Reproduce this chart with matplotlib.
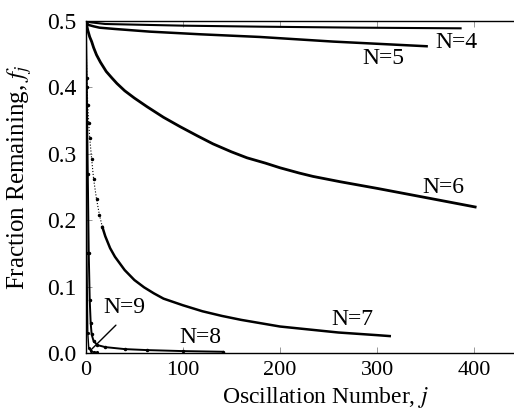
import matplotlib
matplotlib.use('Agg')  # Use non-GUI backend
import matplotlib.pyplot as plt

plt.rcParams['font.family'] = ['Liberation Serif', 'DejaVu Serif']
plt.rcParams['mathtext.fontset'] = 'stix'

# Values (oscillation number j, fraction remaining f_j)
j_n4 = [0, 2, 5, 20, 100, 179, 280, 386]
f_n4 = [0.5, 0.499, 0.498, 0.4955, 0.493, 0.4915, 0.490, 0.489]

j_n5 = [0, 1, 3, 8, 14, 30, 66, 118, 179, 255, 351]
f_n5 = [0.5, 0.497, 0.494, 0.492, 0.490, 0.488, 0.484, 0.480, 0.476, 0.469,
        0.462]

j_n6 = [0, 1, 2, 4, 6, 8, 11, 15, 21, 27, 32, 40, 50, 63, 80, 97, 115, 131,
        150, 166, 185, 200, 220, 234, 262, 300, 347, 401]
f_n6 = [0.5, 0.493, 0.486, 0.476, 0.469, 0.460, 0.449, 0.438, 0.424, 0.414,
        0.406, 0.395, 0.384, 0.371, 0.355, 0.341, 0.327, 0.315, 0.303, 0.294,
        0.286, 0.279, 0.271, 0.266, 0.258, 0.248, 0.235, 0.220]

j_n7 = [0, 1, 2, 3, 4, 6, 8, 11, 14, 17, 20, 25, 30, 40, 50, 60, 70, 80, 100,
        120, 140, 160, 180, 200, 220, 240, 260, 280, 300, 313]
f_n7 = [0.5, 0.414, 0.374, 0.346, 0.324, 0.292, 0.262, 0.232, 0.208, 0.190,
        0.176, 0.158, 0.145, 0.125, 0.110, 0.099, 0.090, 0.082, 0.072, 0.063,
        0.056, 0.050, 0.045, 0.040, 0.037, 0.034, 0.031, 0.029, 0.027, 0.0256]

j_n8 = [0, 1, 2, 3, 4, 5, 6, 8, 12, 20, 40, 63, 100, 141]
f_n8 = [0.5, 0.40, 0.27, 0.15, 0.08, 0.045, 0.028, 0.018, 0.012, 0.009,
        0.006, 0.0045, 0.003, 0.002]

j_n9 = [0, 1, 2, 3, 5, 8, 11]
f_n9 = [0.5, 0.15, 0.03, 0.008, 0.003, 0.0015, 0.001]

labels = ['N=4', 'N=5', 'N=6', 'N=7', 'N=8', 'N=9']
label_j = [382, 306, 368, 275, 118, 40]
label_f = [0.468, 0.443, 0.249, 0.051, 0.024, 0.068]

x_ticks = [0, 100, 200, 300, 400]
y_ticks = [0.0, 0.1, 0.2, 0.3, 0.4, 0.5]

fig = plt.figure(figsize=(5.14, 4.12), dpi=100)
ax = fig.add_axes([0.167, 0.143, 0.833, 0.806])

ax.plot(j_n4, f_n4, color='black', lw=1.5)
ax.plot(j_n5, f_n5, color='black', lw=1.8)
ax.plot(j_n6, f_n6, color='black', lw=2.0)
ax.plot(j_n7[:10], f_n7[:10], color='black', lw=0.8, ls=':', marker='.', ms=3)
ax.plot(j_n7[9:], f_n7[9:], color='black', lw=1.8)
ax.plot(j_n8, f_n8, color='black', lw=1.4, marker='.', ms=3)
ax.plot(j_n9, f_n9, color='black', lw=1.0, marker='.', ms=2.5)

for text, x, y in zip(labels, label_j, label_f):
    ax.text(x, y, text, ha='center', va='center', fontsize=17)

# pointer from the N=9 label down to its curve
ax.annotate('', xy=(3, 0.0015), xytext=(33, 0.045),
            arrowprops=dict(arrowstyle='-', color='black', lw=1.0))

ax.set_xlim(0, 441)
ax.set_ylim(0, 0.5)
ax.set_xticks(x_ticks)
ax.set_yticks(y_ticks)
ax.set_yticklabels([f'{v:.1f}' for v in y_ticks])
ax.tick_params(direction='in', top=True, length=4, width=0.6,
               color='#888888', labelsize=17, pad=7)
ax.tick_params(axis='x', labelsize=16, pad=6)
ax.spines['right'].set_visible(False)
for s in ['left', 'bottom', 'top']:
    ax.spines[s].set_linewidth(1.0)

ax.set_xlabel('Oscillation Number, $j$', fontsize=17)
ax.set_ylabel('Fraction Remaining, $f_j$', fontsize=18)
ax.xaxis.set_label_coords(0.56, -0.097)
ax.yaxis.set_label_coords(-0.122, 0.53)

fig.savefig('out.png', dpi=100)
plt.close(fig)
